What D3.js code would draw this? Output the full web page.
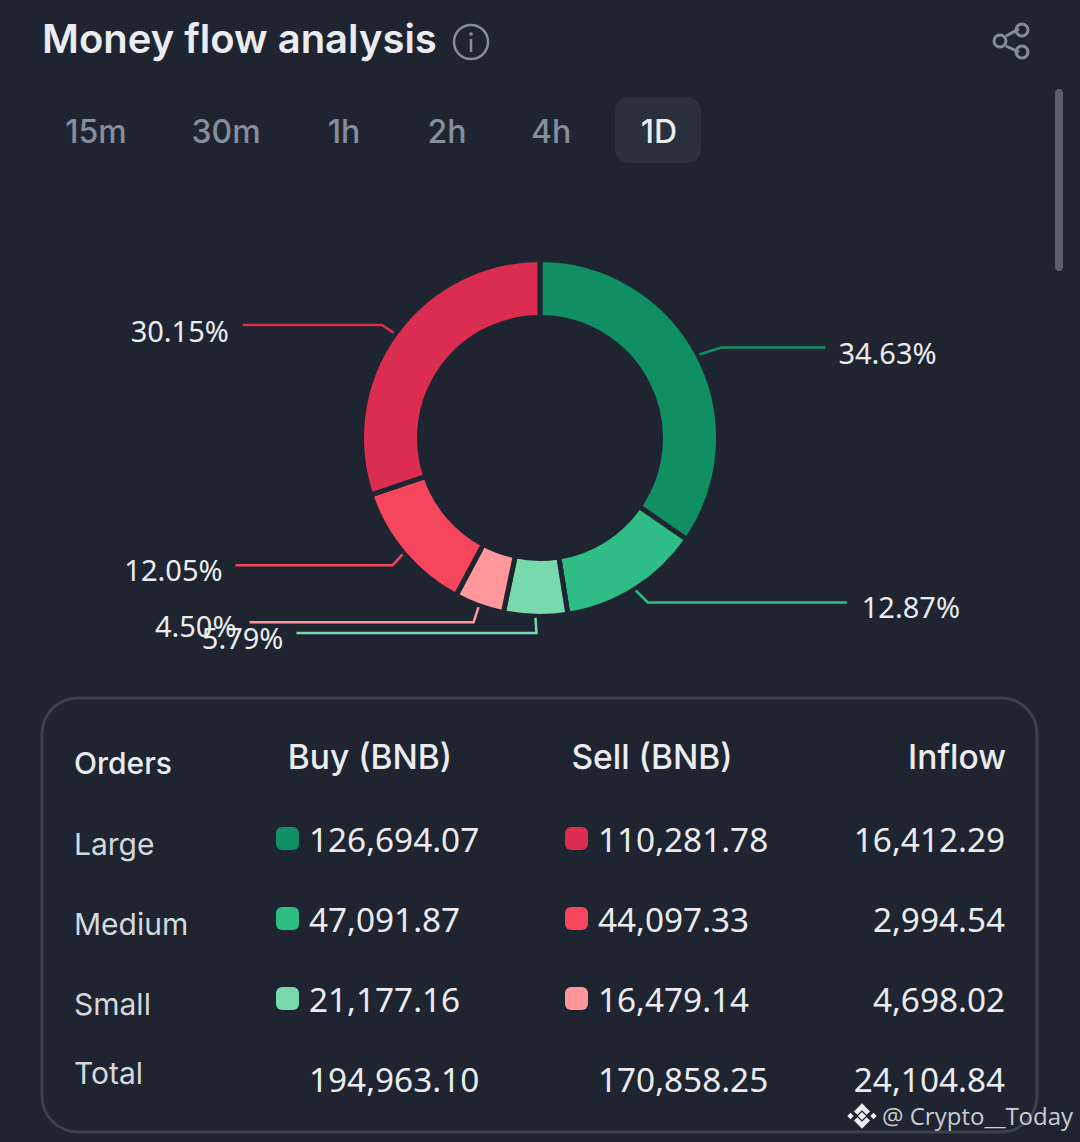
<!DOCTYPE html>
<html>
<head>
<meta charset="utf-8">
<script src="https://cdn.jsdelivr.net/npm/d3@7/dist/d3.min.js"></script>
<style>
html, body { margin: 0; padding: 0; background: #1f2530; overflow: hidden; }
svg { display: block; }
</style>
</head>
<body>
<script>
var title = "Money flow analysis";
var tabs = ["15m", "30m", "1h", "2h", "4h", "1D"];
var shares = [34.63, 12.87, 5.79, 4.50, 12.05, 30.15];
var shareLabels = ["34.63%", "12.87%", "5.79%", "4.50%", "12.05%", "30.15%"];
var columns = ["Orders", "Buy (BNB)", "Sell (BNB)", "Inflow"];
var orderSizes = ["Large", "Medium", "Small", "Total"];
var buyValues = ["126,694.07", "47,091.87", "21,177.16", "194,963.10"];
var sellValues = ["110,281.78", "44,097.33", "16,479.14", "170,858.25"];
var inflowValues = ["16,412.29", "2,994.54", "4,698.02", "24,104.84"];
var watermark = "@ Crypto__Today";

var width = 1080;
var height = 1142;

var bg = "#1f2530";
var colors = ["#0f8f62", "#2ebd85", "#78d9ac", "#ff979d", "#f6465d", "#db2d50"];
var buyColors = colors.slice(0, 3);
var sellColors = [colors[5], colors[4], colors[3]];
var uiFont = "Inter, 'Noto Sans', sans-serif";
var numFont = "'Noto Sans', 'Open Sans', sans-serif";

var svg = d3.select("body")
    .append("svg")
    .attr("width", width)
    .attr("height", height);

svg.append("rect").attr("width", width).attr("height", height).attr("fill", bg);

// header
svg.append("text")
    .attr("x", 42).attr("y", 53)
    .attr("font-family", uiFont).attr("font-size", 40).attr("font-weight", 600)
    .attr("fill", "#eaecef")
    .text(title);

var info = svg.append("g").attr("transform", "translate(471,42)");
info.append("circle").attr("r", 17).attr("fill", "none").attr("stroke", "#848e9c").attr("stroke-width", 2.5);
info.append("circle").attr("cy", -8).attr("r", 1.8).attr("fill", "#848e9c");
info.append("line").attr("y1", -3).attr("y2", 10).attr("stroke", "#848e9c").attr("stroke-width", 2.5);

var share = svg.append("g").attr("fill", "none").attr("stroke", "#848e9c").attr("stroke-width", 3);
share.append("path").attr("d", "M1006 36L1019 29M1006 46L1019 52");
share.append("circle").attr("cx", 1000).attr("cy", 41).attr("r", 6);
share.append("circle").attr("cx", 1022).attr("cy", 30).attr("r", 6);
share.append("circle").attr("cx", 1022).attr("cy", 52).attr("r", 6);

svg.append("rect")
    .attr("x", 1055).attr("y", 89).attr("width", 8).attr("height", 182).attr("rx", 4)
    .attr("fill", "#59606c");

// period tabs
var tabX = [96, 226, 344, 447, 551, 659];
svg.append("rect")
    .attr("x", 615).attr("y", 97).attr("width", 86).attr("height", 66).attr("rx", 14)
    .attr("fill", "#2a303c");

svg.selectAll(".tab")
    .data(tabs)
    .enter()
    .append("text")
    .attr("class", "tab")
    .attr("x", function(d, i) { return tabX[i]; })
    .attr("y", 143)
    .attr("text-anchor", "middle")
    .attr("font-family", uiFont).attr("font-size", 32).attr("font-weight", 500)
    .attr("fill", function(d) { return d === "1D" ? "#eaecef" : "#848e9c"; })
    .text(function(d) { return d; });

// donut
var cx = 540, cy = 438;
var outerR = 178.5, innerR = 120.5, leaderR = 180;

var pie = d3.pie().sort(null);
var arcs = pie(shares);
var arc = d3.arc().innerRadius(innerR).outerRadius(outerR);

var donut = svg.append("g").attr("transform", "translate(" + cx + "," + cy + ")");

donut.selectAll("path")
    .data(arcs)
    .enter()
    .append("path")
    .attr("d", arc)
    .attr("fill", function(d, i) { return colors[i]; })
    .attr("stroke", bg)
    .attr("stroke-width", 5);

// leader lines: elbow offset from the slice edge, then the horizontal run, label after it
var leaderElbow = [[22, -7], [12, 12], [1, 15], [-5, 15], [-10, 11], [-12, -8]];
var leaderRun = [104, 199, -240, -224, -157, -139];
var labelDy = [17, 16, 16, 15, 16, 17];
var labelGap = [13, 15, 13, 13, 13, 14];

function leaderPoints(d, i) {
    var mid = (d.startAngle + d.endAngle) / 2;
    var x0 = cx + leaderR * Math.sin(mid);
    var y0 = cy - leaderR * Math.cos(mid);
    var x1 = x0 + leaderElbow[i][0];
    var y1 = y0 + leaderElbow[i][1];
    return [[x0, y0], [x1, y1], [x1 + leaderRun[i], y1]];
}

var line = d3.line();

svg.selectAll(".leader")
    .data(arcs)
    .enter()
    .append("path")
    .attr("class", "leader")
    .attr("d", function(d, i) { return line(leaderPoints(d, i)); })
    .attr("fill", "none")
    .attr("stroke", function(d, i) { return colors[i]; })
    .attr("stroke-width", 2.5);

svg.selectAll(".share-label")
    .data(arcs)
    .enter()
    .append("text")
    .attr("class", "share-label")
    .attr("x", function(d, i) {
        var end = leaderPoints(d, i)[2][0];
        return leaderRun[i] > 0 ? end + labelGap[i] : end - labelGap[i];
    })
    .attr("y", function(d, i) { return leaderPoints(d, i)[2][1] + labelDy[i]; })
    .attr("text-anchor", function(d, i) { return leaderRun[i] > 0 ? "start" : "end"; })
    .attr("font-family", numFont).attr("font-size", 29)
    .attr("fill", "#eaecef")
    .text(function(d, i) { return shareLabels[i]; });

// table card
svg.append("rect")
    .attr("x", 42).attr("y", 698).attr("width", 995).attr("height", 434).attr("rx", 36)
    .attr("fill", "none").attr("stroke", "#3b414d").attr("stroke-width", 3);

var headX = [74, 370, 652, 1006];
var headAnchor = ["start", "middle", "middle", "end"];
var headY = [774, 769, 769, 769];
var headSize = [30, 33.5, 33.5, 33.5];

svg.selectAll(".head")
    .data(columns)
    .enter()
    .append("text")
    .attr("class", "head")
    .attr("x", function(d, i) { return headX[i]; })
    .attr("y", function(d, i) { return headY[i]; })
    .attr("text-anchor", function(d, i) { return headAnchor[i]; })
    .attr("font-family", uiFont).attr("font-size", function(d, i) { return headSize[i]; }).attr("font-weight", 500)
    .attr("fill", "#eaecef")
    .text(function(d) { return d; });

var rowNameY = [855, 935, 1015, 1084];
var rowY = [852, 932, 1012, 1092];
var swatchY = [827, 907, 987];

svg.selectAll(".row-name")
    .data(orderSizes)
    .enter()
    .append("text")
    .attr("class", "row-name")
    .attr("x", 74)
    .attr("y", function(d, i) { return rowNameY[i]; })
    .attr("font-family", uiFont).attr("font-size", 30)
    .attr("fill", "#d5d8dd")
    .text(function(d) { return d; });

function valueColumn(values, x, anchor) {
    svg.selectAll(".col-" + x)
        .data(values)
        .enter()
        .append("text")
        .attr("class", "col-" + x)
        .attr("x", x)
        .attr("y", function(d, i) { return rowY[i]; })
        .attr("text-anchor", anchor)
        .attr("font-family", numFont).attr("font-size", 33.3)
        .attr("fill", "#eaecef")
        .text(function(d) { return d; });
}

valueColumn(buyValues, 309, "start");
valueColumn(sellValues, 598, "start");
valueColumn(inflowValues, 1005, "end");

function swatches(list, x) {
    svg.selectAll(".sw-" + x)
        .data(list)
        .enter()
        .append("rect")
        .attr("class", "sw-" + x)
        .attr("x", x)
        .attr("y", function(d, i) { return swatchY[i]; })
        .attr("width", 23).attr("height", 23).attr("rx", 6)
        .attr("fill", function(d) { return d; });
}

swatches(buyColors, 276);
swatches(sellColors, 565);

// watermark
var mark = svg.append("g").attr("transform", "translate(862,1116) scale(1.15)").attr("fill", "#eaecef");
mark.append("path").attr("d", "M0 -11L7 -4L4 -1L0 -5L-4 -1L-7 -4Z");
mark.append("path").attr("d", "M0 11L7 4L4 1L0 5L-4 1L-7 4Z");
mark.append("rect").attr("x", -2.5).attr("y", -2.5).attr("width", 5).attr("height", 5).attr("transform", "rotate(45)");
mark.append("rect").attr("x", -12).attr("y", -2).attr("width", 4).attr("height", 4).attr("transform", "rotate(45 -10 0)");
mark.append("rect").attr("x", 8).attr("y", -2).attr("width", 4).attr("height", 4).attr("transform", "rotate(45 10 0)");

svg.append("text")
    .attr("x", 882).attr("y", 1125)
    .attr("font-family", "'Open Sans', sans-serif").attr("font-size", 24)
    .attr("fill", "#c9ccd1")
    .text(watermark);
</script>
</body>
</html>
